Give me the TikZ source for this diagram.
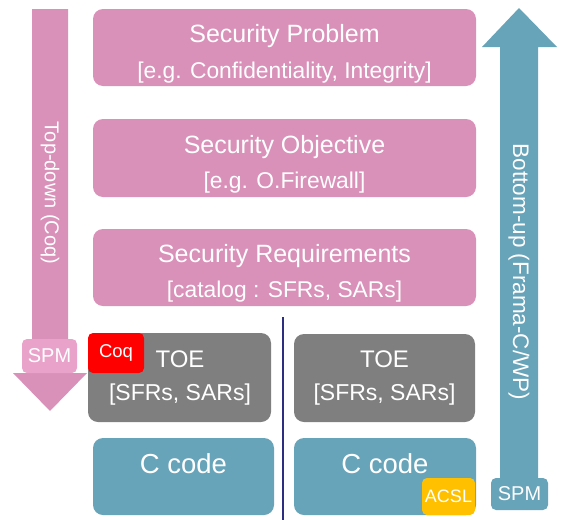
\documentclass[tikz,border=0pt]{standalone}
\usepackage{fontspec}
\setmainfont{Liberation Sans}
\definecolor{pinkbox}{HTML}{D991B9}
\definecolor{pinklight}{HTML}{E9A3CB}
\definecolor{graybox}{HTML}{7F7F7F}
\definecolor{bluebox}{HTML}{67A3B9}
\definecolor{acslc}{HTML}{FFC000}
\definecolor{linec}{HTML}{2E2E80}
\newcommand{\fs}[1]{\fontsize{#1}{#1}\selectfont}
\begin{document}
\begin{tikzpicture}[x=1pt,y=-1pt,
  box/.style={rounded corners=10pt, inner sep=0pt, draw=none},
  pinkb/.style={box, fill=pinkbox},
  grayb/.style={box, fill=graybox},
  blueb/.style={box, fill=bluebox},
  tag/.style={rounded corners=5pt, inner sep=0pt, text=white},
  wt/.style={text=white, inner sep=0pt, anchor=base}]
\useasboundingbox (0,0) rectangle (563,520);
% arrows
\path[fill=pinkbox] (32,9) -- (68,9) -- (68,373) -- (87,373) -- (50,411) -- (13,373) -- (32,373) -- cycle;
\path[fill=bluebox] (500,505) -- (538,505) -- (538,47) -- (557,47) -- (519,8) -- (482,47) -- (500,47) -- cycle;
\node[text=white, rotate=-90, inner sep=0pt] (td) at (50,193) {\fs{20}Top-down (Coq)};
\node[text=white, rotate=-90, inner sep=0pt] (bu) at (519,272) {\fs{22.5}Bottom-up (Frama-C/WP)};
% pink boxes
\node[pinkb, minimum width=383pt, minimum height=77pt] (sp) at (284.5,47.5) {};
\node[pinkb, minimum width=383pt, minimum height=78pt] (so) at (284.5,158) {};
\node[pinkb, minimum width=383pt, minimum height=77pt] (sr) at (284.5,267.5) {};
\node[wt] (sp1) at (284.5,42) {\fs{25}Security Problem};
\node[wt] (sp2) at (284.5,78) {\fs{22.8}[e.g. Confidentiality, Integrity]};
\node[wt] (so1) at (284.5,153) {\fs{25}Security Objective};
\node[wt] (so2) at (284.5,188) {\fs{22.8}[e.g. O.Firewall]};
\node[wt] (sr1) at (284.5,262) {\fs{25}Security Requirements};
\node[wt] (sr2) at (284.5,297) {\fs{22.8}[catalog : SFRs, SARs]};
% divider
\coordinate (ltop) at (283,317);
\coordinate (lbot) at (283,520);
\draw[linec, line width=1.3pt] (ltop) -- (lbot);
% TOE boxes
\node[grayb, minimum width=183pt, minimum height=89pt] (toel) at (179.5,377.5) {};
\node[grayb, minimum width=181pt, minimum height=88pt] (toer) at (384.5,378) {};
\node[wt] (toel1) at (180,367) {\fs{24}TOE};
\node[wt] (toel2) at (180,400) {\fs{23}[SFRs, SARs]};
\node[wt] (toer1) at (384.5,367) {\fs{24}TOE};
\node[wt] (toer2) at (384.5,400) {\fs{23}[SFRs, SARs]};
% C code boxes
\node[blueb, minimum width=181pt, minimum height=77pt] (cl) at (183.5,476.5) {};
\node[blueb, minimum width=182pt, minimum height=77pt] (cr) at (385,476.5) {};
\node[wt] (cl1) at (183.5,473) {\fs{27.5}C code};
\node[wt] (cr1) at (385,473) {\fs{27.5}C code};
% tags
\node[tag, fill=red, minimum width=56pt, minimum height=40pt] (coq) at (116,353) {\fs{18.5}Coq};
\node[tag, fill=acslc, minimum width=53pt, minimum height=37pt] (acsl) at (448.5,496.5) {\fs{18}ACSL};
\node[tag, fill=pinklight, minimum width=55pt, minimum height=34pt] (spml) at (49.5,356) {\fs{20}SPM};
\node[tag, fill=bluebox, minimum width=57pt, minimum height=32pt] (spmr) at (519.5,494) {\fs{20}SPM};
\end{tikzpicture}
\end{document}
